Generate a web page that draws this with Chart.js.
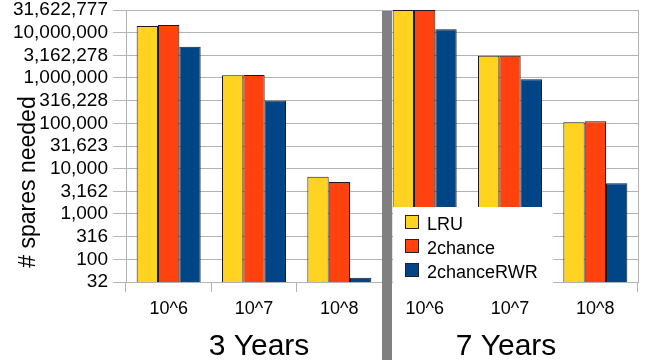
<!DOCTYPE html>
<html>
<head>
<meta charset="utf-8">
<title>Spares needed</title>
<script src="https://cdn.jsdelivr.net/npm/chart.js@4.4.1/dist/chart.umd.min.js"></script>
<style>
  body {margin: 0; background: #fff;}
  #wrap {width: 645px; height: 364px;}
</style>
</head>
<body>
<div id="wrap"><canvas id="myChart" width="645" height="364"></canvas></div>
<script>
// cache sizes, once for each lifetime
var categories = ['10^6', '10^7', '10^8', '10^6', '10^7', '10^8'];
var groups = ['3 Years', '7 Years'];

// spares needed
var lru = [14000000, 1150000, 6650, 31622777, 3110000, 105000];
var twoChance = [14800000, 1160000, 5080, 31622777, 3110000, 111000];
var twoChanceRWR = [4910000, 320000, 39, 11900000, 935000, 4750];

var tickValues = [31.6227766, 100, 316.227766, 1000, 3162.27766, 10000, 31622.7766,
                  100000, 316227.766, 1000000, 3162277.66, 10000000, 31622776.6];
var tickLabels = ['32', '100', '316', '1,000', '3,162', '10,000', '31,623',
                  '100,000', '316,228', '1,000,000', '3,162,278', '10,000,000', '31,622,777'];

var seriesNames = ['LRU', '2chance', '2chanceRWR'];
var colors = ['#ffd320', '#ff420e', '#004586'];

var FONT = "'Liberation Sans', Arial, sans-serif";
Chart.defaults.font.family = FONT;
Chart.defaults.color = '#000';

// separator, in-plot legend, axis title and the two group titles
const extras = {
  id: 'extras',
  afterDraw(chart) {
    const c = chart.ctx, a = chart.chartArea, x = chart.scales.x;
    c.save();
    c.strokeStyle = '#b3b3b3';
    c.lineWidth = 1;
    c.beginPath();
    c.moveTo(Math.round(a.right) + 0.5, a.top);
    c.lineTo(Math.round(a.right) + 0.5, a.bottom);
    c.stroke();

    const sep = Math.round((x.getPixelForValue(2) + x.getPixelForValue(3)) / 2);
    c.fillStyle = '#808080';
    c.fillRect(sep, a.top + 1, 10, 349);

    // legend box
    const lRight = Math.round((x.getPixelForValue(4) + x.getPixelForValue(5)) / 2);
    c.fillStyle = '#fff';
    c.fillRect(sep + 11, 207, lRight - sep - 11, a.bottom + 10 - 207);
    c.font = '18px ' + FONT;
    c.textAlign = 'left';
    c.textBaseline = 'alphabetic';
    for (let i = 0; i < seriesNames.length; i++) {
      const yy = 215 + i * 24;
      c.fillStyle = colors[i];
      c.fillRect(sep + 23, yy, 14, 14);
      c.strokeStyle = '#222';
      c.strokeRect(sep + 23.5, yy + 0.5, 13, 13);
      c.fillStyle = '#000';
      c.fillText(seriesNames[i], sep + 45, yy + 15);
    }

    // y title
    c.save();
    c.translate(35, 182);
    c.rotate(-Math.PI / 2);
    c.font = '23px ' + FONT;
    c.textAlign = 'center';
    c.fillStyle = '#000';
    c.fillText('# spares needed', 0, 0);
    c.restore();

    // group titles
    c.font = '30px ' + FONT;
    c.textAlign = 'center';
    c.fillStyle = '#000';
    c.fillText(groups[0], x.getPixelForValue(1) + 5, 355);
    c.fillText(groups[1], x.getPixelForValue(4) - 4, 355);
    c.restore();
  }
};

const ctx = document.getElementById('myChart');
var chart = new Chart(ctx, {
  type: 'bar',
  data: {
    labels: categories,
    datasets: [
      {label: seriesNames[0], data: lru, backgroundColor: colors[0]},
      {label: seriesNames[1], data: twoChance, backgroundColor: colors[1]},
      {label: seriesNames[2], data: twoChanceRWR, backgroundColor: colors[2]}
    ]
  },
  options: {
    responsive: false,
    animation: false,
    layout: {padding: {top: 10, right: 7, left: 0, bottom: 0}},
    datasets: {
      bar: {
        borderColor: '#1a1a1a',
        borderWidth: 1,
        categoryPercentage: 0.75,
        barPercentage: 1
      }
    },
    plugins: {
      legend: {display: false},
      tooltip: {enabled: false}
    },
    scales: {
      x: {
        afterFit(s) { s.height = 82; s.paddingLeft = 0; s.paddingRight = 0; },
        grid: {
          display: true,
          drawOnChartArea: false,
          drawTicks: true,
          tickLength: 10,
          offset: true,
          color: '#b3b3b3'
        },
        border: {display: true, color: '#b3b3b3'},
        ticks: {font: {size: 18}, padding: 6, maxRotation: 0, autoSkip: false}
      },
      y: {
        type: 'logarithmic',
        min: tickValues[0],
        max: tickValues[tickValues.length - 1],
        afterFit(s) { s.width = 126; s.paddingTop = 0; s.paddingBottom = 0; },
        afterBuildTicks(s) {
          s.ticks = tickValues.map(function (v) { return {value: v}; });
        },
        grid: {color: '#b3b3b3', tickLength: 13},
        border: {display: true, color: '#b3b3b3'},
        ticks: {
          font: {size: 19},
          padding: 5,
          autoSkip: false,
          callback: function (v, i) { return tickLabels[i]; }
        }
      }
    }
  },
  plugins: [extras]
});
</script>
</body>
</html>
